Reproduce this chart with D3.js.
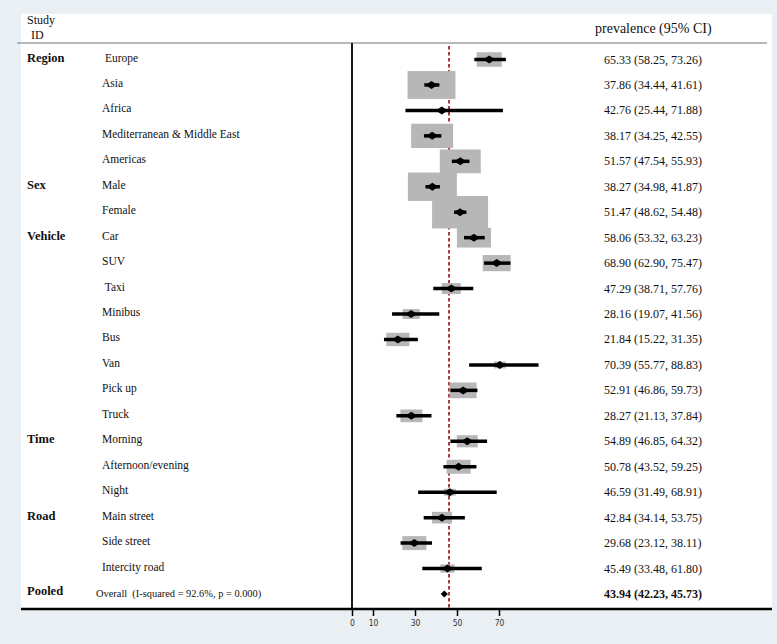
<!DOCTYPE html>
<html>
<head>
<meta charset="utf-8">
<script src="https://cdn.jsdelivr.net/npm/d3@7"></script>
<style>
  body { margin: 0; background: #e9eff2; }
  svg { display: block; }
</style>
</head>
<body>
<div id="chart"></div>
<script>
// subgroup rows
const groups = ["Region", "Region", "Region", "Region", "Region",
    "Sex", "Sex",
    "Vehicle", "Vehicle", "Vehicle", "Vehicle", "Vehicle", "Vehicle", "Vehicle", "Vehicle",
    "Time", "Time", "Time",
    "Road", "Road", "Road"];
const studies = [" Europe", "Asia", "Africa", "Mediterranean & Middle East", "Americas",
    "Male", "Female",
    "Car", "SUV", " Taxi", "Minibus", "Bus", "Van", "Pick up", "Truck",
    "Morning", "Afternoon/evening", "Night",
    "Main street", "Side street", "Intercity road"];
const estimate = [65.33, 37.86, 42.76, 38.17, 51.57, 38.27, 51.47, 58.06, 68.90, 47.29, 28.16, 21.84, 70.39, 52.91, 28.27, 54.89, 50.78, 46.59, 42.84, 29.68, 45.49];
const lower = [58.25, 34.44, 25.44, 34.25, 47.54, 34.98, 48.62, 53.32, 62.90, 38.71, 19.07, 15.22, 55.77, 46.86, 21.13, 46.85, 43.52, 31.49, 34.14, 23.12, 33.48];
const upper = [73.26, 41.61, 71.88, 42.55, 55.93, 41.87, 54.48, 63.23, 75.47, 57.76, 41.56, 31.35, 88.83, 59.73, 37.84, 64.32, 59.25, 68.91, 53.75, 38.11, 61.80];
// relative weights
const weights = [6.3, 23.0, 0.4, 17.6, 16.8, 24.0, 31.4, 11.6, 7.8, 3.6, 2.9, 5.3, 1.4, 7.3, 4.8, 4.4, 5.8, 1.4, 4.0, 5.8, 2.0];

const pooled = {label: "Overall  (I-squared = 92.6%, p = 0.000)", est: 43.94, lo: 42.23, hi: 45.73};
const refLine = 46.2;
const xTicks = [0, 10, 30, 50, 70];

const width = 777, height = 644;
const panel = {left: 21, top: 14, right: 772, bottom: 609};

const svg = d3.select("#chart").append("svg")
    .attr("width", width)
    .attr("height", height);

svg.append("rect")
    .attr("x", panel.left).attr("y", panel.top)
    .attr("width", panel.right - panel.left)
    .attr("height", panel.bottom - panel.top)
    .attr("fill", "#fff");

const x = d3.scaleLinear().domain([0, 70]).range([352, 499]);
const y = d3.scaleLinear().domain([0, studies.length]).range([59.5, 594]);
const boxW = d3.scaleSqrt().domain([0, 31.4]).range([0, 56]);

const serif = "'Liberation Serif', 'Times New Roman', serif";

// header
svg.append("text").attr("x", 27).attr("y", 24)
    .style("font-family", serif).style("font-size", "12px").attr("fill", "#111")
    .text("Study");
svg.append("text").attr("x", 31).attr("y", 39)
    .style("font-family", serif).style("font-size", "12px").attr("fill", "#111")
    .text("ID");
svg.append("text").attr("x", 595).attr("y", 33)
    .style("font-family", serif).style("font-size", "14px").attr("fill", "#111")
    .text("prevalence (95% CI)");
svg.append("line")
    .attr("x1", 17).attr("x2", 767).attr("y1", 43).attr("y2", 43)
    .attr("stroke", "#a0a0a0").attr("stroke-width", 1.5);

// vertical axis line at 0
svg.append("line")
    .attr("x1", x(0)).attr("x2", x(0)).attr("y1", 43).attr("y2", panel.bottom)
    .attr("stroke", "#000").attr("stroke-width", 1.8);

// reference line
svg.append("line")
    .attr("x1", x(refLine)).attr("x2", x(refLine)).attr("y1", 46).attr("y2", panel.bottom)
    .attr("stroke", "#a3262b").attr("stroke-width", 1.8)
    .attr("stroke-dasharray", "3.5,2.5");

const rows = studies.map((s, i) => ({
    i: i, study: s, group: groups[i], est: estimate[i], lo: lower[i], hi: upper[i], w: weights[i]
}));

// group labels at first row of each group
const firstRows = rows.filter((d, i) => i === 0 || groups[i - 1] !== d.group);
svg.selectAll("text.group")
    .data(firstRows)
    .enter().append("text").attr("class", "group")
    .attr("x", 27)
    .attr("y", d => y(d.i) - 2)
    .attr("dominant-baseline", "central")
    .style("font-family", serif).style("font-size", "12.5px").style("font-weight", "bold")
    .attr("fill", "#111")
    .text(d => d.group);

svg.append("text")
    .attr("x", 27).attr("y", y(studies.length) - 3)
    .attr("dominant-baseline", "central")
    .style("font-family", serif).style("font-size", "12.5px").style("font-weight", "bold")
    .attr("fill", "#111")
    .text("Pooled");

// study labels
svg.selectAll("text.study")
    .data(rows)
    .enter().append("text").attr("class", "study")
    .attr("x", 102)
    .attr("y", d => y(d.i) - 2)
    .attr("dominant-baseline", "central")
    .attr("xml:space", "preserve")
    .style("white-space", "pre")
    .style("font-family", serif).style("font-size", "11.5px")
    .attr("fill", "#111")
    .text(d => d.study);

// weight boxes
svg.selectAll("rect.box")
    .data(rows)
    .enter().append("rect").attr("class", "box")
    .attr("x", d => x(d.est) - boxW(d.w) / 2)
    .attr("y", d => y(d.i) - boxW(d.w) * 0.29)
    .attr("width", d => boxW(d.w))
    .attr("height", d => boxW(d.w) * 0.58)
    .attr("fill", "#b7b7b7");

// confidence intervals
svg.selectAll("line.ci")
    .data(rows)
    .enter().append("line").attr("class", "ci")
    .attr("x1", d => x(d.lo)).attr("x2", d => x(d.hi))
    .attr("y1", d => y(d.i)).attr("y2", d => y(d.i))
    .attr("stroke", "#000").attr("stroke-width", 3.5);

// point estimates
svg.selectAll("path.pt")
    .data(rows)
    .enter().append("path").attr("class", "pt")
    .attr("d", d => {
        const cx = x(d.est), cy = y(d.i);
        return `M${cx - 6},${cy}L${cx},${cy - 4}L${cx + 6},${cy}L${cx},${cy + 4}Z`;
    })
    .attr("fill", "#000");

// right-hand estimates
svg.selectAll("text.val")
    .data(rows)
    .enter().append("text").attr("class", "val")
    .attr("x", 604)
    .attr("y", d => y(d.i))
    .attr("dominant-baseline", "central")
    .style("font-family", serif).style("font-size", "12px")
    .attr("fill", "#111")
    .text(d => `${d.est.toFixed(2)} (${d.lo.toFixed(2)}, ${d.hi.toFixed(2)})`);

// pooled row
const py = y(studies.length);
svg.append("text")
    .attr("x", 96).attr("y", py - 1)
    .attr("dominant-baseline", "central")
    .attr("xml:space", "preserve")
    .style("white-space", "pre")
    .style("font-family", serif).style("font-size", "10.4px")
    .attr("fill", "#111")
    .text(pooled.label);
svg.append("path")
    .attr("d", `M${x(pooled.lo)},${py}L${x(pooled.est)},${py - 3.5}L${x(pooled.hi)},${py}L${x(pooled.est)},${py + 3.5}Z`)
    .attr("fill", "#000");
svg.append("text")
    .attr("x", 604).attr("y", py)
    .attr("dominant-baseline", "central")
    .style("font-family", serif).style("font-size", "12px").style("font-weight", "bold")
    .attr("fill", "#111")
    .text(`${pooled.est.toFixed(2)} (${pooled.lo.toFixed(2)}, ${pooled.hi.toFixed(2)})`);

// bottom axis
svg.append("line")
    .attr("x1", panel.left).attr("x2", panel.right)
    .attr("y1", panel.bottom).attr("y2", panel.bottom)
    .attr("stroke", "#000").attr("stroke-width", 2.5);

const xAxis = d3.axisBottom(x).tickValues(xTicks).tickSize(7).tickPadding(4).tickSizeOuter(0);
const ax = svg.append("g")
    .attr("transform", `translate(0,${panel.bottom})`)
    .call(xAxis);
ax.select(".domain").remove();
ax.selectAll(".tick line").attr("stroke", "#000").attr("stroke-width", 1.5);
ax.selectAll(".tick text")
    .style("font-family", "'DejaVu Sans Condensed', 'DejaVu Sans', sans-serif")
    .style("font-size", "8.5px")
    .attr("fill", "#333");
</script>
</body>
</html>
